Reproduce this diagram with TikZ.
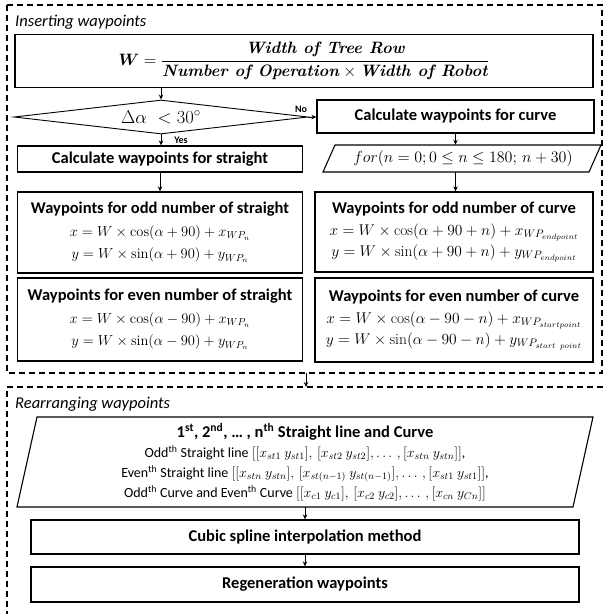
\RequirePackage{fix-cm}
\documentclass[tikz,border=0pt]{standalone}
\usepackage{amsmath}
\usepackage{fontspec}
\setsansfont{Carlito}
\usetikzlibrary{arrows.meta,shapes.geometric}
\begin{document}
\begin{tikzpicture}[x=1pt,y=-1pt,
  box/.style={draw, line width=1.3pt, inner sep=0pt, align=center},
  arr/.style={-{Stealth[length=5pt,width=4.5pt]}, line width=0.8pt},
  dbox/.style={line width=1.1pt, dash pattern=on 6pt off 4pt},
  hd/.style={font=\sffamily\bfseries\fontsize{16.5}{19}\selectfont},
  mth/.style={font=\fontsize{14.5}{22.5}\selectfont},
  ttl/.style={font=\sffamily\itshape\fontsize{16.5}{19}\selectfont, anchor=west, inner sep=0pt},
  lbl/.style={font=\sffamily\bfseries\fontsize{10}{12}\selectfont, inner sep=0pt}]
\useasboundingbox (0,0) rectangle (603,614);
% section frames
\draw[dbox] (7,5) rectangle (602,373);
\draw[dbox] (603,387) -- (7,387) -- (7,614);
\node[ttl] (t1) at (15,22) {Inserting waypoints};
\node[ttl] (t2) at (15,404) {Rearranging waypoints};
% W formula
\node[box, minimum width=578pt, minimum height=53pt] (w) at (304,61)
  {\fontsize{16.5}{19}\selectfont $\boldsymbol{W} = \dfrac{\textbf{\textit{Width of Tree Row}}}{\textbf{\textit{Number of Operation}}\times\textbf{\textit{Width of Robot}}}$};
% decision
\node[draw, diamond, aspect=8.6, minimum width=294pt, minimum height=34pt, inner sep=0pt, line width=0.9pt] (d) at (161,117)
  {\fontsize{18.5}{20}\selectfont $\Delta\alpha\ <30^{\circ}$};
\node[box, minimum width=277pt, minimum height=33pt, hd] (curve) at (455.5,116.5) {Calculate waypoints for curve};
\node[box, minimum width=285pt, minimum height=26pt, hd] (straight) at (160,159) {Calculate waypoints for straight};
% for loop parallelogram
\draw[line width=1.1pt] (323,172) -- (335,145) -- (601,145) -- (589,172) -- cycle;
\node[inner sep=0pt, minimum height=27pt, font=\fontsize{16}{18}\selectfont] (for) at (463,158.5)
  {$for(n=0;0\le n\le 180;\,n+30)$};
% straight boxes
\node[box, minimum width=285pt, minimum height=81pt, mth] (oddS) at (160,232.5)
  {{\sffamily\bfseries\fontsize{16.5}{19}\selectfont Waypoints for odd number of straight}\\
   $x = W\times\cos(\alpha+90)+x_{WP_n}$\\
   $y = W\times\sin(\alpha+90)+y_{WP_n}$};
\node[box, minimum width=285pt, minimum height=83pt, mth] (evenS) at (160,319.5)
  {{\sffamily\bfseries\fontsize{16.5}{19}\selectfont Waypoints for even number of straight}\\
   $x = W\times\cos(\alpha-90)+x_{WP_n}$\\
   $y = W\times\sin(\alpha-90)+y_{WP_n}$};
% curve boxes
\node[box, minimum width=278pt, minimum height=80pt, font=\fontsize{15.5}{21.5}\selectfont] (oddC) at (454,232)
  {{\sffamily\bfseries\fontsize{16.5}{19}\selectfont Waypoints for odd number of curve}\\
   $x = W\times\cos(\alpha+90+n)+x_{WP_{endpoint}}$\\
   $y = W\times\sin(\alpha+90+n)+y_{WP_{endpoint}}$};
\node[box, minimum width=278pt, minimum height=84pt, font=\fontsize{15.5}{21.5}\selectfont] (evenC) at (454,320)
  {{\sffamily\bfseries\fontsize{16.5}{19}\selectfont Waypoints for even number of curve}\\
   $x = W\times\cos(\alpha-90-n)+x_{WP_{startpoint}}$\\
   $y = W\times\sin(\alpha-90-n)+y_{WP_{start\ point}}$};
% labels
\node[lbl] (no) at (301,109) {No};
\node[lbl] (yes) at (181,140) {Yes};
% connectors, section 1
\draw[arr] (d.north |- w.south) -- (d.north);
\draw[arr] (d.east) -- (d.east -| curve.west);
\draw[arr] (d.south) -- (d.south |- straight.north);
\draw[arr] (straight.south) -- (straight.south |- oddS.north);
\draw[arr] (curve.south) -- (curve.south |- for.north);
\draw[arr] (curve.south |- for.south) -- (curve.south |- oddC.north);
% between sections
\coordinate (b1) at (306,373);
\coordinate (b2) at (306,387);
\draw[arr] (b1) -- (b2);
% list parallelogram
\draw[line width=1.1pt] (17,507) -- (37,417) -- (593,417) -- (573,507) -- cycle;
\node[inner sep=0pt, minimum height=90pt, align=center, font=\sffamily\fontsize{14}{20}\selectfont] (list) at (305,462)
  {{\bfseries\fontsize{16.5}{19}\selectfont 1\textsuperscript{st}, 2\textsuperscript{nd}, … , n\textsuperscript{th} Straight line and Curve}\\
   Odd\textsuperscript{th} Straight line $[[x_{st1}\ y_{st1}],\,[x_{st2}\ y_{st2}],\dots\,,[x_{stn}\ y_{stn}]]$,\\
   Even\textsuperscript{th} Straight line $[[x_{stn}\ y_{stn}],\,[x_{st(n-1)}\ y_{st(n-1)}],\dots\,,[x_{st1}\ y_{st1}]]$,\\
   Odd\textsuperscript{th} Curve and Even\textsuperscript{th} Curve $[[x_{c1}\ y_{c1}],\,[x_{c2}\ y_{c2}],\dots\,,[x_{cn}\ y_{Cn}]]$};
\node[box, minimum width=548pt, minimum height=34pt, hd] (cubic) at (305,537) {Cubic spline interpolation method};
\node[box, minimum width=548pt, minimum height=35pt, hd] (regen) at (305,584.5) {Regeneration waypoints};
\draw[arr] (list.south) -- (cubic.north);
\draw[arr] (cubic.south) -- (regen.north);
\end{tikzpicture}
\end{document}
